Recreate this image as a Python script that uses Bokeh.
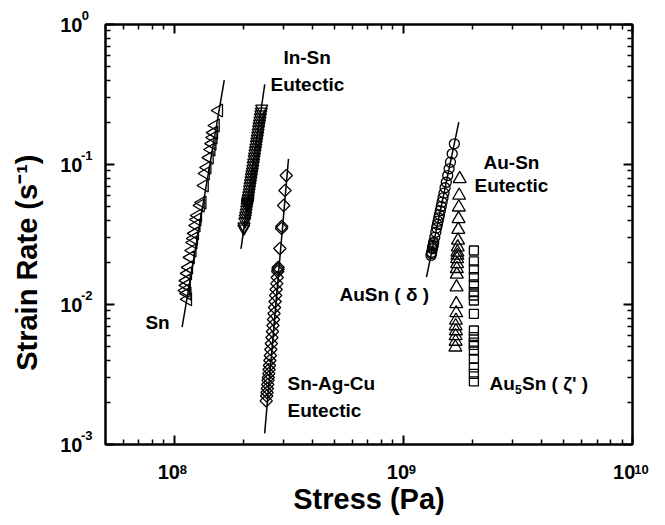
import math
from bokeh.plotting import figure
from bokeh.models import Label, LogAxis, FixedTicker, CustomJSTickFormatter
from bokeh.embed import file_html
from bokeh.resources import INLINE

# ---------------- data ----------------
sn_x = [1.561e8, 1.51e8, 1.485e8, 1.476e8, 1.461e8, 1.446e8, 1.421e8, 1.389e8, 1.366e8,
        1.352e8, 1.321e8, 1.299e8, 1.264e8, 1.256e8, 1.244e8, 1.226e8, 1.214e8, 1.207e8,
        1.195e8, 1.175e8, 1.155e8, 1.143e8, 1.128e8, 1.128e8, 1.117e8, 1.136e8, 1.143e8]
sn_y = [0.243, 0.190, 0.169, 0.156, 0.141, 0.128, 0.112, 0.0952, 0.0863,
        0.0708, 0.0535, 0.0509, 0.0432, 0.0405, 0.0367, 0.0322, 0.0296, 0.0277,
        0.0243, 0.0217, 0.0184, 0.0167, 0.0148, 0.0137, 0.0126, 0.0120, 0.0109]
sn_fit_x = [1.08e8, 1.65e8]
sn_fit_y = [0.0069, 0.40]

insn_x = [2.405e8, 2.395e8, 2.384e8, 2.373e8, 2.363e8, 2.352e8, 2.341e8, 2.331e8, 2.320e8,
          2.310e8, 2.299e8, 2.289e8, 2.279e8, 2.269e8, 2.258e8, 2.248e8, 2.238e8, 2.228e8,
          2.218e8, 2.208e8, 2.198e8, 2.188e8, 2.178e8, 2.168e8, 2.158e8, 2.148e8, 2.138e8,
          2.129e8, 2.119e8, 2.109e8, 2.100e8, 2.094e8, 2.091e8, 2.088e8, 2.084e8, 2.081e8,
          2.075e8, 2.066e8, 2.057e8, 2.047e8, 2.038e8, 2.029e8, 2.014e8, 2.008e8]
insn_y = [0.251, 0.239, 0.228, 0.217, 0.206, 0.196, 0.187, 0.178, 0.169,
          0.161, 0.153, 0.146, 0.139, 0.132, 0.126, 0.120, 0.114, 0.109,
          0.103, 0.0984, 0.0936, 0.0891, 0.0849, 0.0808, 0.0769, 0.0732, 0.0697,
          0.0663, 0.0631, 0.0601, 0.0572, 0.0553, 0.0544, 0.0535, 0.0527, 0.0518,
          0.0501, 0.0477, 0.0454, 0.0432, 0.0412, 0.0392, 0.0361, 0.0349]
insn_fit_x = [1.952e8, 2.479e8]
insn_fit_y = [0.0250, 0.373]

sac_x = [3.078e8, 3.038e8, 2.999e8, 2.942e8, 2.936e8, 2.886e8, 2.837e8, 2.831e8, 2.825e8,
         2.811e8, 2.797e8, 2.780e8, 2.766e8, 2.752e8, 2.735e8, 2.722e8, 2.708e8, 2.692e8,
         2.679e8, 2.665e8, 2.649e8, 2.636e8, 2.623e8, 2.610e8, 2.599e8, 2.589e8, 2.581e8,
         2.570e8, 2.563e8, 2.555e8, 2.545e8, 2.537e8, 2.528e8, 2.516e8]
sac_y = [0.0834, 0.0652, 0.0510, 0.0361, 0.0349, 0.0251, 0.0184, 0.0178, 0.0172,
         0.0156, 0.0141, 0.0128, 0.0116, 0.0105, 0.00952, 0.00862, 0.00781, 0.00708,
         0.00641, 0.00581, 0.00526, 0.00477, 0.00432, 0.00398, 0.00367, 0.00343, 0.00321,
         0.00301, 0.00287, 0.00268, 0.00251, 0.00235, 0.00222, 0.00205]
sac_fit_x = [2.477e8, 3.147e8]
sac_fit_y = [0.00120, 0.1098]

ausn_x = [1.668e9, 1.632e9, 1.604e9, 1.582e9, 1.560e9, 1.538e9, 1.519e9, 1.503e9, 1.488e9,
          1.474e9, 1.461e9, 1.449e9, 1.436e9, 1.426e9, 1.416e9, 1.406e9, 1.396e9, 1.384e9,
          1.370e9, 1.356e9, 1.352e9, 1.347e9, 1.341e9, 1.337e9, 1.328e9, 1.324e9, 1.319e9]
ausn_y = [0.1406, 0.1192, 0.1039, 0.0932, 0.0834, 0.0747, 0.0682, 0.0624, 0.0578,
          0.0538, 0.0501, 0.0469, 0.0439, 0.0416, 0.0394, 0.0373, 0.0353, 0.0328,
          0.0302, 0.0279, 0.0272, 0.0264, 0.0255, 0.0250, 0.0236, 0.0231, 0.0224]
ausn_fit_x = [1.26e9, 1.744e9]
ausn_fit_y = [0.0157, 0.2005]

ausneu_x = [1.76e9, 1.75e9, 1.745e9, 1.74e9, 1.735e9, 1.73e9, 1.725e9, 1.72e9, 1.72e9,
            1.715e9, 1.715e9, 1.71e9, 1.71e9, 1.705e9, 1.70e9, 1.70e9, 1.695e9, 1.69e9,
            1.695e9, 1.69e9, 1.69e9, 1.685e9]
ausneu_y = [0.0790, 0.0601, 0.0495, 0.0409, 0.0343, 0.0287, 0.0257, 0.0236, 0.0224,
            0.0212, 0.0195, 0.0180, 0.0164, 0.0133, 0.0101, 0.0087, 0.00769, 0.00702,
            0.00647, 0.00596, 0.00544, 0.00495]

au5sn_x = [2.03e9] * 18
au5sn_y = [0.0243, 0.0203, 0.0178, 0.01567, 0.0139, 0.01224, 0.0116, 0.01068, 0.00858,
           0.00652, 0.00584, 0.00535, 0.00514, 0.00469, 0.00409, 0.00356, 0.0032, 0.00282]

x_major = [1e8, 1e9, 1e10]
x_exp = ["8", "9", "10"]
y_major = [1e0, 1e-1, 1e-2, 1e-3]
y_exp = ["0", "-1", "-2", "-3"]

# ---------------- figure ----------------
X0, X1 = 5e7, 1e10
Y0, Y1 = 1e-3, 1.0
p = figure(width=657, height=517, x_axis_type="log", y_axis_type="log",
           x_range=(X0, X1), y_range=(Y0, Y1), output_backend="svg",
           toolbar_location=None, min_border_left=105, min_border_right=25,
           min_border_top=24, min_border_bottom=73)
p.background_fill_color = "white"
p.border_fill_color = "white"
p.outline_line_color = "black"
p.outline_line_width = 2
p.xgrid.visible = False
p.ygrid.visible = False

FONT = "Liberation Sans"
NB = "\u00a0"
x_minor = [m * 10 ** k for k in (7, 8, 9) for m in range(2, 10) if X0 <= m * 10 ** k <= X1]
y_minor = [m * 10 ** k for k in (-3, -2, -1) for m in range(2, 10)]

def lookup_formatter(major, labels):
    pairs = ",".join(f"[{v!r},{lbl!r}]" for v, lbl in zip(major, labels))
    code = ("const pairs=[" + pairs + "];"
            "for (const [v,l] of pairs) { if (Math.abs(Math.log10(tick)-Math.log10(v))<1e-6) return l; }"
            "return '';")
    return CustomJSTickFormatter(code=code)

def style_axis(ax, major, minor, labels=None, size=20, ticks=True):
    ax.ticker = FixedTicker(ticks=major, minor_ticks=minor)
    if labels is None:
        ax.formatter = CustomJSTickFormatter(code="return ''")
        ax.major_label_text_font_size = "0px"
    else:
        ax.formatter = lookup_formatter(major, labels)
        ax.major_label_text_font = FONT
        ax.major_label_text_font_style = "bold"
        ax.major_label_text_font_size = f"{size}px"
        ax.major_label_text_color = "black"
    if ticks:
        ax.axis_line_width = 2
        ax.axis_line_color = "black"
        ax.major_tick_in = 9
        ax.minor_tick_in = 5
        ax.major_tick_line_width = 2
        ax.minor_tick_line_width = 1.5
        ax.major_tick_line_color = "black"
        ax.minor_tick_line_color = "black"
    else:
        ax.axis_line_color = None
        ax.major_tick_line_color = None
        ax.minor_tick_line_color = None
        ax.major_tick_in = 0
        ax.minor_tick_in = 0
    ax.major_tick_out = 0
    ax.minor_tick_out = 0

def title_style(ax, text):
    ax.axis_label = text
    ax.axis_label_text_font = FONT
    ax.axis_label_text_font_style = "bold"
    ax.axis_label_text_font_size = "29px"
    ax.axis_label_text_color = "black"

# x axis: "10" row, then exponent row (pulled back up) carrying the title
xa = p.xaxis[0]
x_tens = ["10" + NB * (3 if len(e) > 1 else 2) for e in x_exp]
style_axis(xa, x_major, x_minor, x_tens, 20)
xa.major_label_standoff = 16
xb = LogAxis()
style_axis(xb, x_major, [], [NB * 5 + e for e in x_exp], 13, ticks=False)
xb.major_label_standoff = -24
title_style(xb, "Stress (Pa)")
xb.axis_label_standoff = 3
p.add_layout(xb, "below")

# y axis: "10" column, then exponent column (pulled back right) carrying the title
ya = p.yaxis[0]
style_axis(ya, y_major, y_minor, ["10"] * len(y_major), 20)
ya.major_label_standoff = 23
yb = LogAxis()
style_axis(yb, y_major, [], [(e if len(e) > 1 else e + NB) + "\n" + NB for e in y_exp], 13, ticks=False)
yb.major_label_standoff = -35
title_style(yb, "Strain Rate (s\u207b\u00b9)" + NB * 7)
yb.axis_label_standoff = 35
p.add_layout(yb, "left")

top_ax = LogAxis()
right_ax = LogAxis()
style_axis(top_ax, x_major, x_minor)
style_axis(right_ax, y_major, y_minor)
p.add_layout(top_ax, "above")
p.add_layout(right_ax, "right")

LW = 1.3
for fx, fy in [(sn_fit_x, sn_fit_y), (insn_fit_x, insn_fit_y),
               (sac_fit_x, sac_fit_y), (ausn_fit_x, ausn_fit_y)]:
    p.line(fx, fy, line_color="black", line_width=1.5)

p.scatter(sn_x, sn_y, marker="triangle", size=13, angle=math.pi / 2,
          fill_color=None, line_color="black", line_width=LW)
p.scatter(insn_x, insn_y, marker="inverted_triangle", size=12,
          fill_color=None, line_color="black", line_width=LW)
p.scatter(sac_x, sac_y, marker="square", size=8.7, angle=math.pi / 4,
          fill_color=None, line_color="black", line_width=LW)
p.scatter(ausn_x, ausn_y, marker="circle", size=10,
          fill_color=None, line_color="black", line_width=LW)
p.scatter(ausneu_x, ausneu_y, marker="triangle", size=13,
          fill_color=None, line_color="black", line_width=LW)
p.scatter(au5sn_x, au5sn_y, marker="square", size=9,
          fill_color=None, line_color="black", line_width=LW)

def lab(x, y, text, size, xo=0, yo=0):
    p.add_layout(Label(x=x, y=y, x_offset=xo, y_offset=yo, text=text,
                       text_font=FONT, text_font_size=f"{size}px", text_font_style="bold",
                       text_align="left", text_baseline="middle", text_color="black"))

AS = 19
lab(2.99e8, 0.581, "In-Sn", AS)
lab(2.626e8, 0.3728, "Eutectic", AS)
lab(7.47e7, 0.00744, "Sn", AS)
lab(3.115e8, 0.002727, "Sn-Ag-Cu", AS)
lab(3.115e8, 0.00175, "Eutectic", AS)
lab(5.254e8, 0.01179, "AuSn ( \u03b4 )", AS)
lab(2.236e9, 0.1033, "Au-Sn", AS)
lab(2.042e9, 0.0708, "Eutectic", AS)
lab(2.374e9, 0.002727, "Au", AS)
lab(2.374e9, 0.002727, "5", 12, xo=25.5, yo=-6)
lab(2.374e9, 0.002727, "Sn ( \u03b6' )", AS, xo=32.5)

open("out.html", "w").write(file_html(p, INLINE))
